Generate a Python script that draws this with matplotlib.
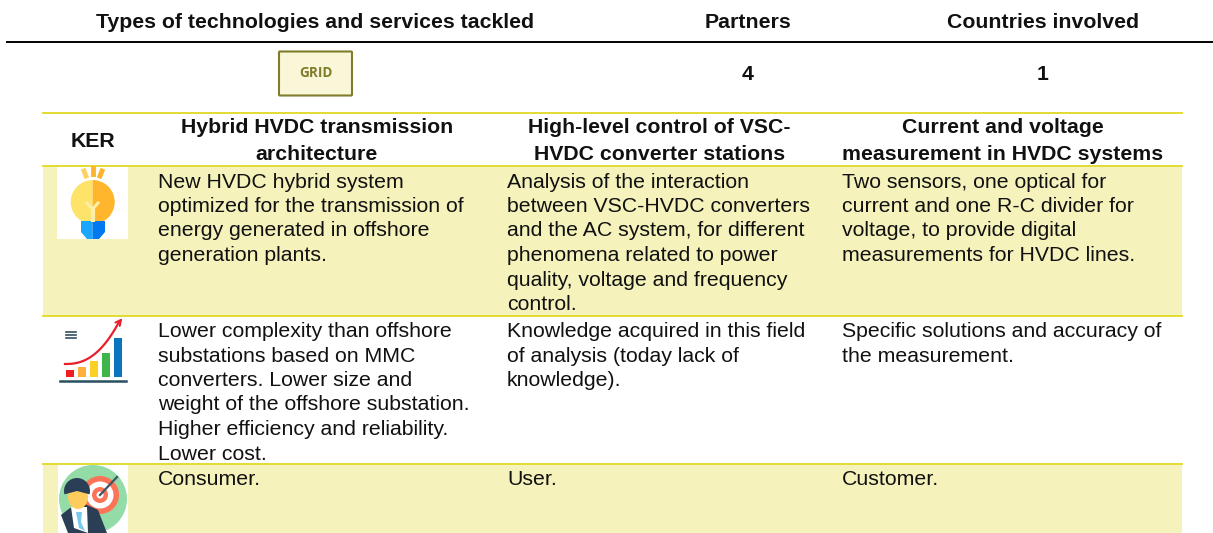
import matplotlib
matplotlib.use('Agg')
import matplotlib.pyplot as plt
from matplotlib.patches import Rectangle, Circle, Wedge, Polygon, Ellipse, FancyBboxPatch
import numpy as np

plt.rcParams['font.family'] = ['Liberation Sans', 'DejaVu Sans']

# table text
top_headers = ['Types of technologies and services tackled', 'Partners', 'Countries involved']
top_values = ['4', '1']
tech_label = 'GRID'
ker_label = 'KER'
col_headers = ['Hybrid HVDC transmission\narchitecture',
               'High-level control of VSC-\nHVDC converter stations',
               'Current and voltage\nmeasurement in HVDC systems']
row1 = ['New HVDC hybrid system\noptimized for the transmission of\nenergy generated in offshore\ngeneration plants.',
        'Analysis of the interaction\nbetween VSC-HVDC converters\nand the AC system, for different\nphenomena related to power\nquality, voltage and frequency\ncontrol.',
        'Two sensors, one optical for\ncurrent and one R-C divider for\nvoltage, to provide digital\nmeasurements for HVDC lines.']
row2 = ['Lower complexity than offshore\nsubstations based on MMC\nconverters. Lower size and\nweight of the offshore substation.\nHigher efficiency and reliability.\nLower cost.',
        'Knowledge acquired in this field\nof analysis (today lack of\nknowledge).',
        'Specific solutions and accuracy of\nthe measurement.']
row3 = ['Consumer.', 'User.', 'Customer.']

fig = plt.figure(figsize=(12.13, 5.33), dpi=100)
ax = fig.add_axes([0, 0, 1, 1])
ax.set_xlim(0, 1213)
ax.set_ylim(533, 0)
ax.axis('off')

FILL = '#f5f2bb'
LINE = '#e2dc34'
FS = 15.3


def put_lines(x, y0, s, step, **kw):
    # one text per line so the line pitch is exact
    for i, line in enumerate(s.split('\n')):
        ax.text(x, y0 + i * step, line, va='baseline', fontsize=FS, color='#111111', **kw)


# bands and rules
ax.add_patch(Rectangle((43, 167), 1139, 149, color=FILL, lw=0))
ax.add_patch(Rectangle((43, 464), 1139, 69, color=FILL, lw=0))
ax.plot([7, 1213], [42, 42], color='black', lw=1.4)
for y in [113, 166, 316, 464]:
    ax.plot([43, 1182], [y, y], color=LINE, lw=1.4)

# top header
for x, s in zip([315, 748, 1043], top_headers):
    put_lines(x, 27.5, s, 0, ha='center', fontweight='bold')
for x, s in zip([748, 1043], top_values):
    put_lines(x, 80, s, 0, ha='center', fontweight='bold')

# GRID box
ax.add_patch(FancyBboxPatch((279, 51.5), 73, 44, boxstyle='round,pad=0,rounding_size=1',
                            fc='#f9f7d8', ec='#7f7c2c', lw=1.5))
ax.text(315.5, 73, tech_label, ha='center', va='center', fontsize=9.8, fontweight='bold',
        color='#7f7c2c', family=['Open Sans', 'DejaVu Sans'])

# column headers
put_lines(93, 147, ker_label, 0, ha='center', fontweight='bold')
for x, s in zip([317, 659.5, 1003], col_headers):
    put_lines(x, 133, s, 27, ha='center', fontweight='bold')

# body
col_x = [158, 507, 842]
for rows, y0 in zip([row1, row2, row3], [187.5, 337, 485]):
    for x, s in zip(col_x, rows):
        put_lines(x, y0, s, 24.5, ha='left')

# bulb icon
ax.add_patch(Rectangle((57, 167), 71, 72, color='white', lw=0, zorder=3))
ax.add_patch(Wedge((92.7, 202), 22, 90, 270, fc='#fee36b', lw=0, zorder=4))
ax.add_patch(Wedge((92.7, 202), 22, 270, 90, fc='#ffb52c', lw=0, zorder=4))
ax.add_patch(Polygon([(81, 221), (92.7, 221), (92.7, 239), (87, 239), (81, 232)], fc='#1aa6ff', lw=0, zorder=4))
ax.add_patch(Polygon([(92.7, 221), (105, 221), (105, 232), (99, 239), (92.7, 239)], fc='#0078f0', lw=0, zorder=4))
ax.plot([92.7, 92.7], [222, 208], color='#ffeea6', lw=3, zorder=5, solid_capstyle='butt')
ax.plot([87, 92.7, 98], [203, 209, 203], color='#ffeea6', lw=2.2, zorder=5)
ax.plot([84, 86], [171, 176], color='#fdd160', lw=3.5, zorder=4)
ax.plot([92.7, 92.7], [168, 174], color='#fdb52c', lw=3.5, zorder=4)
ax.plot([102, 100], [171, 176], color='#fdb52c', lw=3.5, zorder=4)

# growth icon
for y in [332, 335, 338]:
    ax.plot([66, 76], [y, y], color='#33505f', lw=1.2)
bar_x = [66, 78, 90, 102, 114]
bar_top = [370, 367, 361, 353, 338]
bar_col = ['#ee2024', '#ffb03b', '#fad122', '#3fb549', '#0a75bd']
for x, t, c in zip(bar_x, bar_top, bar_col):
    ax.add_patch(Rectangle((x, t), 8, 377 - t, color=c, lw=0))
ax.plot([60, 126], [381, 381], color='#27505f', lw=1.8)
t = np.linspace(0, 1, 30)
ax.plot(65 + 54 * t, 364 - 42 * t ** 2.4, color='#e8202a', lw=1.6)
ax.annotate('', xy=(124, 316), xytext=(117, 325),
            arrowprops=dict(arrowstyle='->', color='#e8202a', lw=1.4))

# target icon
ax.add_patch(Rectangle((58, 465), 70, 68, color='white', lw=0, zorder=3))
ax.add_patch(Circle((93, 499), 34, fc='#93dca8', lw=0, zorder=4))
for r, c in zip([19, 13.5, 8, 3.5], ['#fd7358', 'white', '#fd7358', 'white']):
    ax.add_patch(Circle((100, 495), r, fc=c, lw=0, zorder=5))
ax.plot([100, 117], [495, 477], color='#3f5566', lw=1.6, zorder=6)
ax.add_patch(Polygon([(61, 515), (70, 508), (85, 504), (98, 510), (107, 533), (68, 533)], fc='#2a3f55', lw=0, zorder=6))
ax.add_patch(Polygon([(71, 507), (87, 507), (88, 533), (74, 528)], fc='white', lw=0, zorder=7))
ax.add_patch(Polygon([(76, 512), (82, 512), (81, 522), (85, 531), (79, 528)], fc='#79c9ef', lw=0, zorder=8))
ax.add_patch(Ellipse((78, 497), 20, 24, fc='#fdcc5c', lw=0, zorder=8))
ax.add_patch(Wedge((77, 491), 13, 165, 15, fc='#2a3f55', lw=0, zorder=9))

fig.savefig('out.png', dpi=100)
